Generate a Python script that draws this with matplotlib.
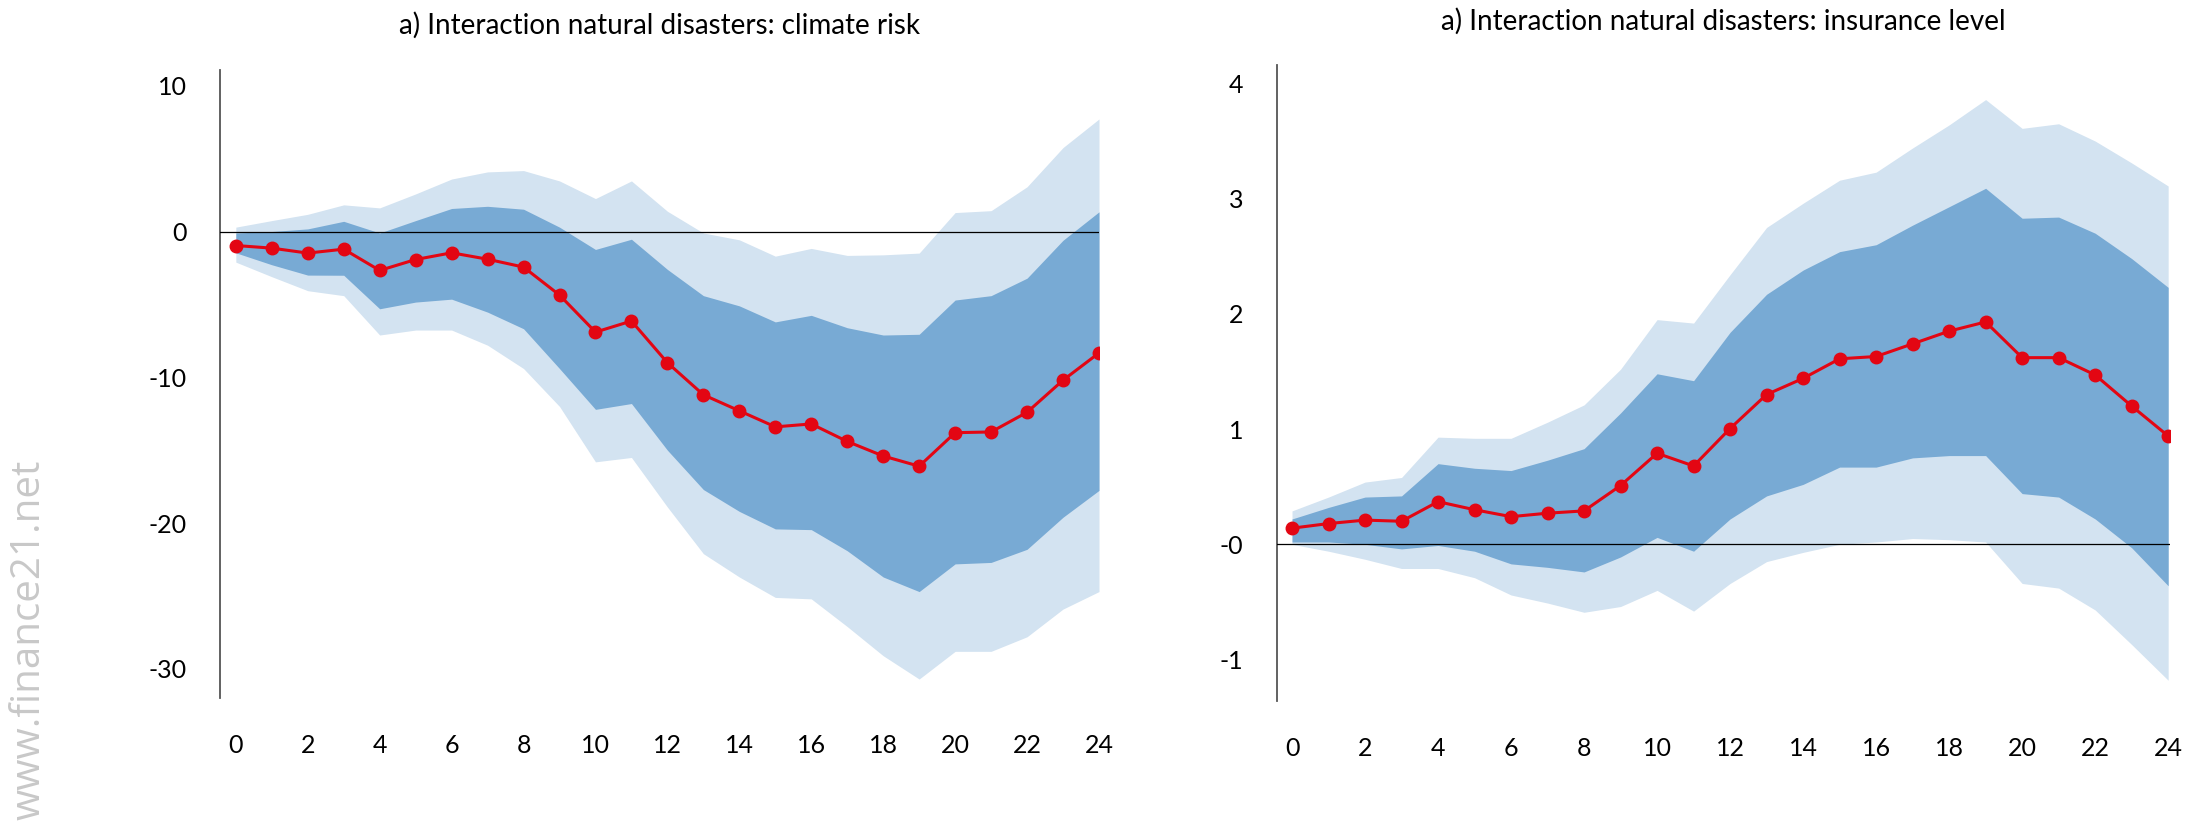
import numpy as np
import matplotlib
matplotlib.use('Agg')
import matplotlib.pyplot as plt

plt.rcParams['font.family'] = ['Lato', 'DejaVu Sans']

# Impulse responses over the horizon, with 68% (inner) and 90% (outer) bands
horizon = list(range(25))

# a) climate risk
cr_median = [-0.96, -1.14, -1.48, -1.21, -2.67, -1.92, -1.46, -1.90, -2.44, -4.36, -6.90, -6.14, -9.0,
             -11.2, -12.3, -13.4, -13.2, -14.4, -15.4, -16.1, -13.8, -13.75, -12.4, -10.2, -8.33]
cr_inner_hi = [-0.1, 0.0, 0.18, 0.7, -0.1, 0.75, 1.58, 1.73, 1.53, 0.3, -1.23, -0.53, -2.6,
               -4.4, -5.1, -6.2, -5.75, -6.6, -7.1, -7.05, -4.7, -4.4, -3.2, -0.6, 1.35]
cr_inner_lo = [-1.46, -2.28, -2.99, -3.0, -5.3, -4.84, -4.64, -5.53, -6.67, -9.4, -12.2, -11.8, -15.0,
               -17.7, -19.2, -20.4, -20.45, -21.9, -23.7, -24.7, -22.8, -22.7, -21.8, -19.6, -17.76]
cr_outer_hi = [0.3, 0.75, 1.18, 1.83, 1.62, 2.58, 3.6, 4.09, 4.18, 3.47, 2.26, 3.47, 1.39,
               -0.1, -0.57, -1.69, -1.16, -1.64, -1.6, -1.48, 1.3, 1.43, 3.07, 5.76, 7.72]
cr_outer_lo = [-2.1, -3.1, -4.06, -4.4, -7.1, -6.76, -6.76, -7.8, -9.4, -12.0, -15.8, -15.5, -18.9,
               -22.1, -23.7, -25.1, -25.2, -27.1, -29.1, -30.7, -28.8, -28.8, -27.8, -25.9, -24.7]
cr_yticks = [-30, -20, -10, 0, 10]
cr_ylabels = ['-30', '-20', '-10', '0', '10']

# b) insurance level
il_median = [0.14, 0.18, 0.21, 0.20, 0.37, 0.30, 0.24, 0.27, 0.29, 0.51, 0.79, 0.68, 1.005,
             1.30, 1.44, 1.61, 1.63, 1.74, 1.85, 1.93, 1.62, 1.62, 1.47, 1.20, 0.94]
il_inner_hi = [0.22, 0.32, 0.41, 0.42, 0.70, 0.66, 0.64, 0.73, 0.83, 1.14, 1.48, 1.42, 1.84,
               2.17, 2.38, 2.54, 2.60, 2.77, 2.93, 3.09, 2.83, 2.84, 2.70, 2.48, 2.23]
il_inner_lo = [0.02, 0.02, 0.0, -0.04, -0.01, -0.06, -0.17, -0.20, -0.24, -0.11, 0.06, -0.06, 0.22,
               0.42, 0.52, 0.67, 0.67, 0.75, 0.77, 0.77, 0.44, 0.41, 0.22, -0.03, -0.36]
il_outer_hi = [0.29, 0.41, 0.54, 0.58, 0.93, 0.92, 0.92, 1.06, 1.21, 1.52, 1.95, 1.92, 2.34,
               2.75, 2.96, 3.16, 3.23, 3.44, 3.64, 3.86, 3.61, 3.65, 3.50, 3.31, 3.11]
il_outer_lo = [0.0, -0.06, -0.13, -0.21, -0.21, -0.29, -0.44, -0.51, -0.59, -0.54, -0.40, -0.58, -0.34,
               -0.15, -0.07, 0.0, 0.02, 0.05, 0.04, 0.02, -0.34, -0.38, -0.57, -0.87, -1.18]
il_yticks = [-1, 0, 1, 2, 3, 4]
il_ylabels = ['-1', '-0', '1', '2', '3', '4']

xticks = list(range(0, 25, 2))

LIGHT = '#d3e3f1'
DARK = '#78aad4'
RED = '#e30613'

W, H = 2193, 833
fig = plt.figure(figsize=(W / 100, H / 100), dpi=100)

ax1 = fig.add_axes([220 / W, 1 - 698 / H, (1099 - 220) / W, (698 - 70) / H])
ax2 = fig.add_axes([1276.5 / W, 1 - 701 / H, (2170 - 1276.5) / W, (701 - 65) / H])


def draw_panel(ax, med, in_lo, in_hi, out_lo, out_hi, yticks, ylabels, xlim, ylim):
    ax.fill_between(horizon, out_lo, out_hi, color=LIGHT, lw=0)
    ax.fill_between(horizon, in_lo, in_hi, color=DARK, lw=0)
    ax.axhline(0, color='black', lw=0.9, zorder=3)
    ax.plot(horizon, med, color=RED, lw=2.2, marker='o', markersize=9, zorder=4)

    ax.set_xlim(*xlim)
    ax.set_ylim(*ylim)
    ax.set_xticks(xticks)
    ax.set_yticks(yticks)
    ax.set_yticklabels(ylabels)
    ax.tick_params(length=0, labelsize=18, colors='black')
    ax.tick_params(axis='y', pad=24)
    ax.tick_params(axis='x', pad=26)

    for side in ['top', 'right', 'bottom']:
        ax.spines[side].set_visible(False)
    ax.spines['left'].set_color('#555555')
    ax.spines['left'].set_linewidth(1.3)


draw_panel(ax1, cr_median, cr_inner_lo, cr_inner_hi, cr_outer_lo, cr_outer_hi,
           cr_yticks, cr_ylabels, (-0.44, 24.0), (-32.0, 11.08))
draw_panel(ax2, il_median, il_inner_lo, il_inner_hi, il_outer_lo, il_outer_hi,
           il_yticks, il_ylabels, (-0.425, 24.05), (-1.36, 4.16))

# Panel titles
fig.text((220 + 1099) / 2 / W, 1 - 25 / H, 'a) Interaction natural disasters: climate risk',
         ha='center', va='center', fontsize=20)
fig.text((1276.5 + 2170) / 2 / W, 1 - 21 / H, 'a) Interaction natural disasters: insurance level',
         ha='center', va='center', fontsize=20)

# Site watermark
fig.text(29 / W, 1 - 640 / H, 'www.finance21.net', rotation=90, ha='center', va='center',
         fontsize=29, color='#c8c8c8', family=['Open Sans', 'DejaVu Sans'])

fig.savefig('out.png', dpi=100)
